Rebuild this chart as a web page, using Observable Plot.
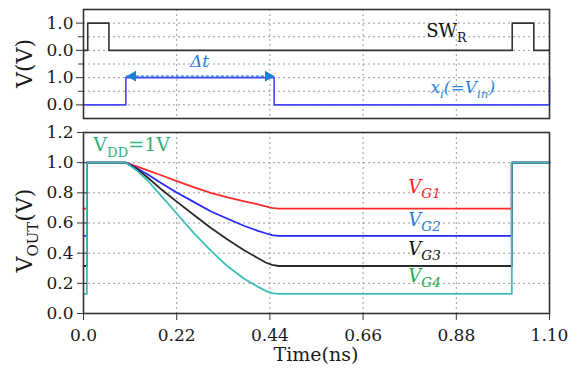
<!DOCTYPE html>
<html><head><meta charset="utf-8">
<script src="https://cdn.jsdelivr.net/npm/d3@7"></script>
<script src="https://cdn.jsdelivr.net/npm/@observablehq/plot@0.6"></script>
<style>
html,body{margin:0;padding:0;background:#fff;}
#chart{position:relative;width:579px;height:368px;overflow:hidden;background:#fff;}
#chart svg{display:block;}
</style></head><body><div id="chart"></div>
<script>
// ---- Top panel: SW_R and x_i signals ----
const swTime  = [0, 0.01, 0.01, 0.06, 0.06, 1.012, 1.012, 1.063, 1.063, 1.1];
const swValue = [0, 0, 1, 1, 0, 0, 1, 1, 0, 0];
const xiTime  = [0, 0.1, 0.1, 0.45, 0.45, 1.1, 1.1];
const xiValue = [0, 0, 1, 1, 0, 0, 1];
const deltaT  = [0.1, 0.45];
const topTicks = [0, 1, 2, 3];
const topTickLabels = ["0.0", "1.0", "0.0", "1.0"];
const topMinorTicks = [0.5, 1.5, 2.5];

// ---- Bottom panel: V_OUT for four gate voltages ----
const outTime = [0, 0.008, 0.008, 0.1, 0.125, 0.15, 0.185, 0.22, 0.26, 0.3, 0.34, 0.38, 0.41, 0.43, 0.445, 0.46, 1.011, 1.011, 1.1];
const vG1 = [0.695, 0.695, 1.0, 1.0, 0.975, 0.951, 0.915, 0.878, 0.838, 0.800, 0.770, 0.743, 0.725, 0.710, 0.700, 0.695, 0.695, 1.0, 1.0];
const vG2 = [0.515, 0.515, 1.0, 1.0, 0.965, 0.925, 0.862, 0.802, 0.740, 0.678, 0.628, 0.580, 0.550, 0.532, 0.520, 0.515, 0.515, 1.0, 1.0];
const vG3 = [0.315, 0.315, 1.0, 1.0, 0.960, 0.905, 0.820, 0.742, 0.655, 0.568, 0.490, 0.418, 0.370, 0.338, 0.322, 0.315, 0.315, 1.0, 1.0];
const vG4 = [0.130, 0.130, 1.0, 1.0, 0.950, 0.885, 0.775, 0.663, 0.535, 0.418, 0.313, 0.229, 0.180, 0.150, 0.135, 0.130, 0.130, 1.0, 1.0];
const seriesNames = ["G1", "G2", "G3", "G4"];
const vdd = 1.0;
const xTicks = [0, 0.22, 0.44, 0.66, 0.88, 1.10];
const xTickLabels = ["0.0", "0.22", "0.44", "0.66", "0.88", "1.10"];
const yTicks = [0, 0.2, 0.4, 0.6, 0.8, 1.0, 1.2];
const yTickLabels = ["0.0", "0.2", "0.4", "0.6", "0.8", "1.0", "1.2"];

// ---- styles ----
const FONT = "DejaVu Serif";
const lineColors  = ["#ff2a2a", "#2727ff", "#2a2a2a", "#3cbfb6"];
const labelColors = ["#ff2020", "#2b7fd8", "#111111", "#22aa4a"];
const labelDy = [-15, -9.5, -10.5, -11];
const gridStyle = {stroke: "#9a9a9a", strokeOpacity: 1, strokeDasharray: "2,3", strokeWidth: 1};
const swOffset = 2;

const toRows = (t, v) => t.map((x, i) => ({t: x, v: v[i]}));
const high = d3.max(xiValue);

const topPlot = Plot.plot({
  width: 579, height: 120,
  marginLeft: 83, marginRight: 30, marginTop: 9, marginBottom: 2,
  x: {domain: [0, 1.1], axis: null},
  y: {domain: [-0.5, 3.5]},
  style: {fontFamily: FONT, fontSize: "17px", color: "#1a1a1a", background: "transparent", overflow: "visible"},
  marks: [
    Plot.gridY([0, 0.5, 1, 1.5, 2, 2.5, 3], gridStyle),
    Plot.gridX(xTicks.slice(1, 5), gridStyle),
    Plot.line(toRows(swTime, swValue), {x: "t", y: d => d.v + swOffset, stroke: "#333", strokeWidth: 1.6}),
    Plot.line(toRows(xiTime, xiValue), {x: "t", y: "v", stroke: "#4646ff", strokeWidth: 1.6}),
    Plot.link([deltaT], {x1: d => d[0], x2: d => d[1], y1: high, y2: high, dy: -1.5,
      stroke: "#1a7fd6", strokeWidth: 1.3, strokeDasharray: "3,2", inset: 0}),
    Plot.dot([deltaT[0]], {x: d => d, y: high, dy: -1.5, dx: 7, symbol: "triangle", rotate: -90, r: 4, fill: "#1a7fd6", stroke: "none"}),
    Plot.dot([deltaT[1]], {x: d => d, y: high, dy: -1.5, dx: -6, symbol: "triangle", rotate: 90, r: 4, fill: "#1a7fd6", stroke: "none"}),
    Plot.frame({stroke: "#333", strokeWidth: 1.6}),
    Plot.axisY(topTicks, {tickSize: 7, tickPadding: 3, label: null, stroke: "#333",
      tickFormat: d => topTickLabels[topTicks.indexOf(d)]}),
    Plot.axisY(topMinorTicks, {tickSize: 5, label: null, stroke: "#333", tickFormat: () => ""})
  ]
});

const series = [vG1, vG2, vG3, vG4];
const bottomPlot = Plot.plot({
  width: 579, height: 248,
  marginLeft: 83, marginRight: 30, marginTop: 12, marginBottom: 55,
  x: {domain: [0, 1.1]},
  y: {domain: [0, 1.2]},
  style: {fontFamily: FONT, fontSize: "17px", color: "#1a1a1a", background: "transparent", overflow: "visible"},
  marks: [
    Plot.gridY(yTicks.slice(1, 6), gridStyle),
    Plot.gridX(xTicks.slice(1, 5), gridStyle),
    ...series.map((s, k) => Plot.line(toRows(outTime, s), {x: "t", y: "v", stroke: lineColors[k], strokeWidth: 1.8})),
    Plot.frame({stroke: "#333", strokeWidth: 1.6}),
    Plot.axisY(yTicks, {tickSize: 6, tickPadding: 4, label: null, stroke: "#333",
      tickFormat: d => yTickLabels[yTicks.indexOf(d)]}),
    Plot.axisY(yTicks, {tickSize: -4, label: null, stroke: "#333", tickFormat: () => ""}),
    Plot.axisX(xTicks, {tickSize: 7, tickPadding: 8, label: null, stroke: "#333",
      tickFormat: d => xTickLabels[xTicks.indexOf(d)]})
  ]
});

function richText(svg, {x, y, anchor = "start", rotate = 0, size, italic = false, fill, parts, subScale = 0.7, subShift = 0.3}) {
  const t = d3.select(svg).append("text")
    .attr("transform", `translate(${x},${y}) rotate(${rotate})`)
    .attr("text-anchor", anchor)
    .attr("font-family", FONT)
    .attr("font-size", size)
    .attr("font-style", italic ? "italic" : "normal")
    .attr("fill", fill);
  let shift = 0;
  for (const [str, sub] of parts) {
    const target = sub ? size * subShift : 0;
    t.append("tspan").attr("dy", target - shift).attr("font-size", sub ? size * subScale : size).text(str);
    shift = target;
  }
}

// Top annotations
{
  const xs = topPlot.scale("x"), ys = topPlot.scale("y");
  richText(topPlot, {x: 32, y: (ys.apply(-0.5) + ys.apply(3.5)) / 2, anchor: "middle", rotate: -90, size: 22, fill: "#1a1a1a", parts: [["V(V)"]]});
  richText(topPlot, {x: xs.apply(0.81), y: ys.apply(swOffset) - 13, size: 18, fill: "#111", parts: [["SW"], ["R", true]]});
  richText(topPlot, {x: xs.apply(0.82), y: ys.apply(0) - 11.5, size: 17, italic: true, fill: "#2f86e0",
    parts: [["x"], ["i", true], ["(=V"], ["in", true], [")"]]});
  richText(topPlot, {x: xs.apply((deltaT[0] + deltaT[1]) / 2), y: ys.apply(high) - 10, anchor: "middle", size: 17, italic: true, fill: "#2a80d8", parts: [["Δt"]]});
}
// Bottom annotations
{
  const xs = bottomPlot.scale("x"), ys = bottomPlot.scale("y");
  richText(bottomPlot, {x: 32, y: ys.apply(0.6) + 8, anchor: "middle", rotate: -90, size: 22, fill: "#1a1a1a",
    parts: [["V"], ["OUT", true], ["(V)"]], subScale: 0.68, subShift: 0.25});
  richText(bottomPlot, {x: (xs.apply(0) + xs.apply(1.1)) / 2, y: 241, anchor: "middle", size: 19, fill: "#1a1a1a", parts: [["Time(ns)"]]});
  richText(bottomPlot, {x: xs.apply(0.024), y: ys.apply(vdd) - 11, size: 19, fill: "#2eb37a", parts: [["V"], ["DD", true], ["=1V"]]});
  series.forEach((s, k) => {
    const level = s[outTime.length - 3];
    richText(bottomPlot, {x: xs.apply(0.768), y: ys.apply(level) + labelDy[k], size: 18, italic: true, fill: labelColors[k],
      parts: [["V"], [seriesNames[k], true]], subScale: 0.75, subShift: 0.28});
  });
}

const chart = document.getElementById("chart");
chart.appendChild(topPlot);
chart.appendChild(bottomPlot);
</script>
</body></html>
